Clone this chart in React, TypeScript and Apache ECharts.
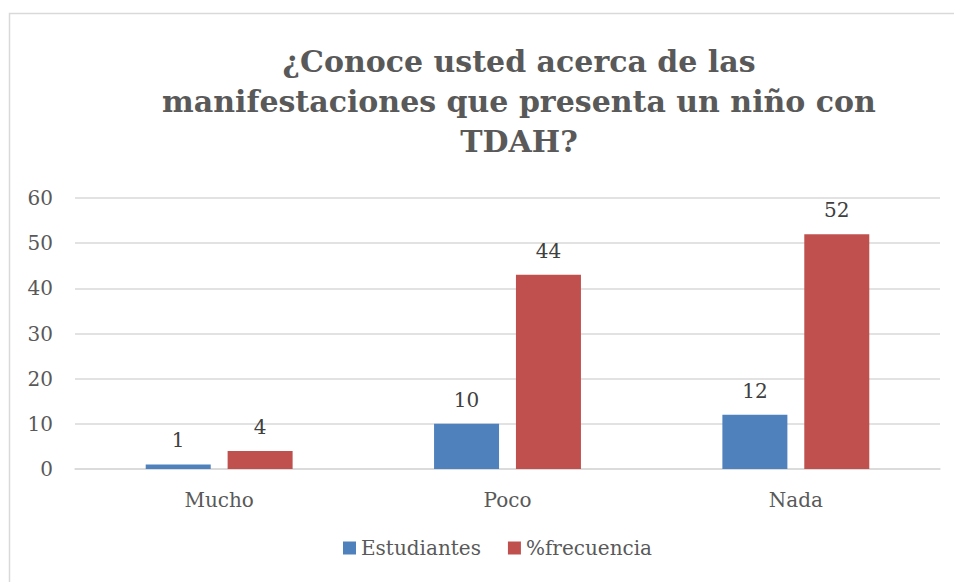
import React, { useEffect, useRef } from "react";
import * as echarts from "echarts";

const categories = ["Mucho", "Poco", "Nada"];
const estudiantes = [1, 10, 12];
const frecuencia = [4, 43, 52];
const estudiantesLabels = ["1", "10", "12"];
const frecuenciaLabels = ["4", "44", "52"];
const seriesNames = ["Estudiantes", "%frecuencia"];
const titleText = "¿Conoce usted acerca de las\nmanifestaciones que presenta un niño con\nTDAH?";

export default function App() {
  const ref = useRef<HTMLDivElement>(null);
  useEffect(() => {
    document.body.style.margin = "0";
    const chart = echarts.init(ref.current!, null, { renderer: "svg" });
    const font = "DejaVu Serif";
    chart.setOption({
      animation: false,
      backgroundColor: "#ffffff",
      title: {
        text: titleText,
        left: 514,
        top: 36,
        textAlign: "center",
        textStyle: {
          fontFamily: font,
          fontSize: 30,
          fontWeight: "bold",
          color: "#595959",
          lineHeight: 40,
        },
      },
      graphic: [
        {
          type: "rect",
          shape: { x: 9.5, y: 13.5, width: 980, height: 620 },
          style: { fill: "none", stroke: "#d9d9d9", lineWidth: 1.5 },
          silent: true,
          z: -1,
        },
      ],
      legend: {
        data: seriesNames,
        bottom: 19,
        left: 338,
        itemWidth: 13,
        itemHeight: 13,
        itemGap: 27,
        icon: "rect",
        textStyle: { fontFamily: font, fontSize: 20, color: "#595959" },
      },
      grid: { left: 75, right: 14, top: 198, bottom: 113 },
      xAxis: {
        type: "category",
        data: categories,
        axisLine: { lineStyle: { color: "#d9d9d9", width: 1.5 } },
        axisTick: { show: false },
        axisLabel: { fontFamily: font, fontSize: 20, color: "#595959", margin: 21 },
      },
      yAxis: {
        type: "value",
        min: 0,
        max: 60,
        interval: 10,
        axisLine: { show: false },
        axisTick: { show: false },
        splitLine: { lineStyle: { color: "#d9d9d9", width: 1.5 } },
        axisLabel: { fontFamily: font, fontSize: 20, color: "#595959", margin: 22 },
      },
      series: [
        {
          name: seriesNames[0],
          type: "bar",
          data: estudiantes,
          barWidth: 65,
          barGap: "26%",
          itemStyle: { color: "#4F81BD" },
          label: {
            show: true,
            position: "top",
            distance: 14,
            fontFamily: font,
            fontSize: 20,
            color: "#404040",
            formatter: (p: any) => estudiantesLabels[p.dataIndex],
          },
        },
        {
          name: seriesNames[1],
          type: "bar",
          data: frecuencia,
          barWidth: 65,
          itemStyle: { color: "#C0504D" },
          label: {
            show: true,
            position: "top",
            distance: 14,
            fontFamily: font,
            fontSize: 20,
            color: "#404040",
            formatter: (p: any) => frecuenciaLabels[p.dataIndex],
          },
        },
      ],
    });
    return () => chart.dispose();
  }, []);
  return <div ref={ref} style={{ width: 954, height: 582 }} />;
}
